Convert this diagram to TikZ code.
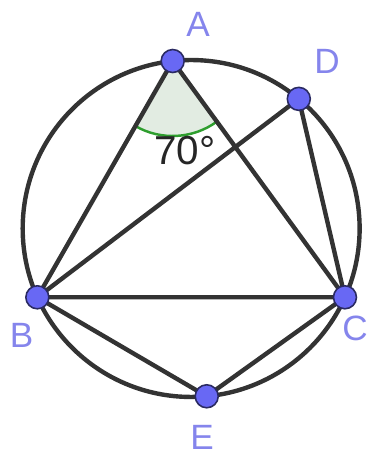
\documentclass[tikz,border=0pt]{standalone}
\usepackage{fontspec}
\setsansfont{Liberation Sans}
\usetikzlibrary{angles}
\definecolor{ggline}{HTML}{333333}
\definecolor{ggpoint}{HTML}{6868F4}
\definecolor{gglabel}{HTML}{8585EC}
\definecolor{gggreen}{HTML}{2E9E2E}
\definecolor{ggfill}{HTML}{E2ECE2}

\begin{document}
\begin{tikzpicture}[
  x=0.02cm, y=0.02cm,
  font=\sffamily,
  chord/.style={line width=2.5pt, draw=ggline, line cap=round},
  pt/.style={circle, fill=ggpoint, draw=ggpoint!40!black, line width=0.9pt,
             minimum size=4.6mm, inner sep=0pt},
  lbl/.style={text=gglabel, font=\sffamily\fontsize{20}{20}\selectfont},
  anglemark/.style={draw=gggreen, fill=ggfill, line width=1.4pt, angle radius=1.5cm}
]
  \useasboundingbox (0,0) rectangle (369,459);
  % points on the circle
  \coordinate (O) at (191.15,230.5);
  \coordinate (A) at ([shift={(O)}]96.3:168.5);
  \coordinate (D) at ([shift={(O)}]50.3:168.5);
  \coordinate (B) at ([shift={(O)}]204.1:168.5);
  \coordinate (C) at ([shift={(O)}]-24.1:168.5);
  \coordinate (E) at ([shift={(O)}]-84.7:168.5);

  \pic[anglemark] {angle=B--A--C};
  \node[font=\sffamily\fontsize{23}{23}\selectfont, text=black!85] (val) at (185,308) {70°};

  \draw[chord] (O) circle[radius=3.37cm];
  \draw[chord] (A) -- (B) (A) -- (C) (B) -- (C) (B) -- (D) (D) -- (C)
               (B) -- (E) (E) -- (C);

  \node[pt] (pA) at (A) {};
  \node[pt] (pD) at (D) {};
  \node[pt] (pB) at (B) {};
  \node[pt] (pC) at (C) {};
  \node[pt] (pE) at (E) {};

  \node[lbl] (labA) at (198,435) {A};
  \node[lbl] (labD) at (327,398) {D};
  \node[lbl] (labB) at (21.7,124) {B};
  \node[lbl] (labC) at (355,131) {C};
  \node[lbl] (labE) at (202,22) {E};
\end{tikzpicture}
\end{document}
